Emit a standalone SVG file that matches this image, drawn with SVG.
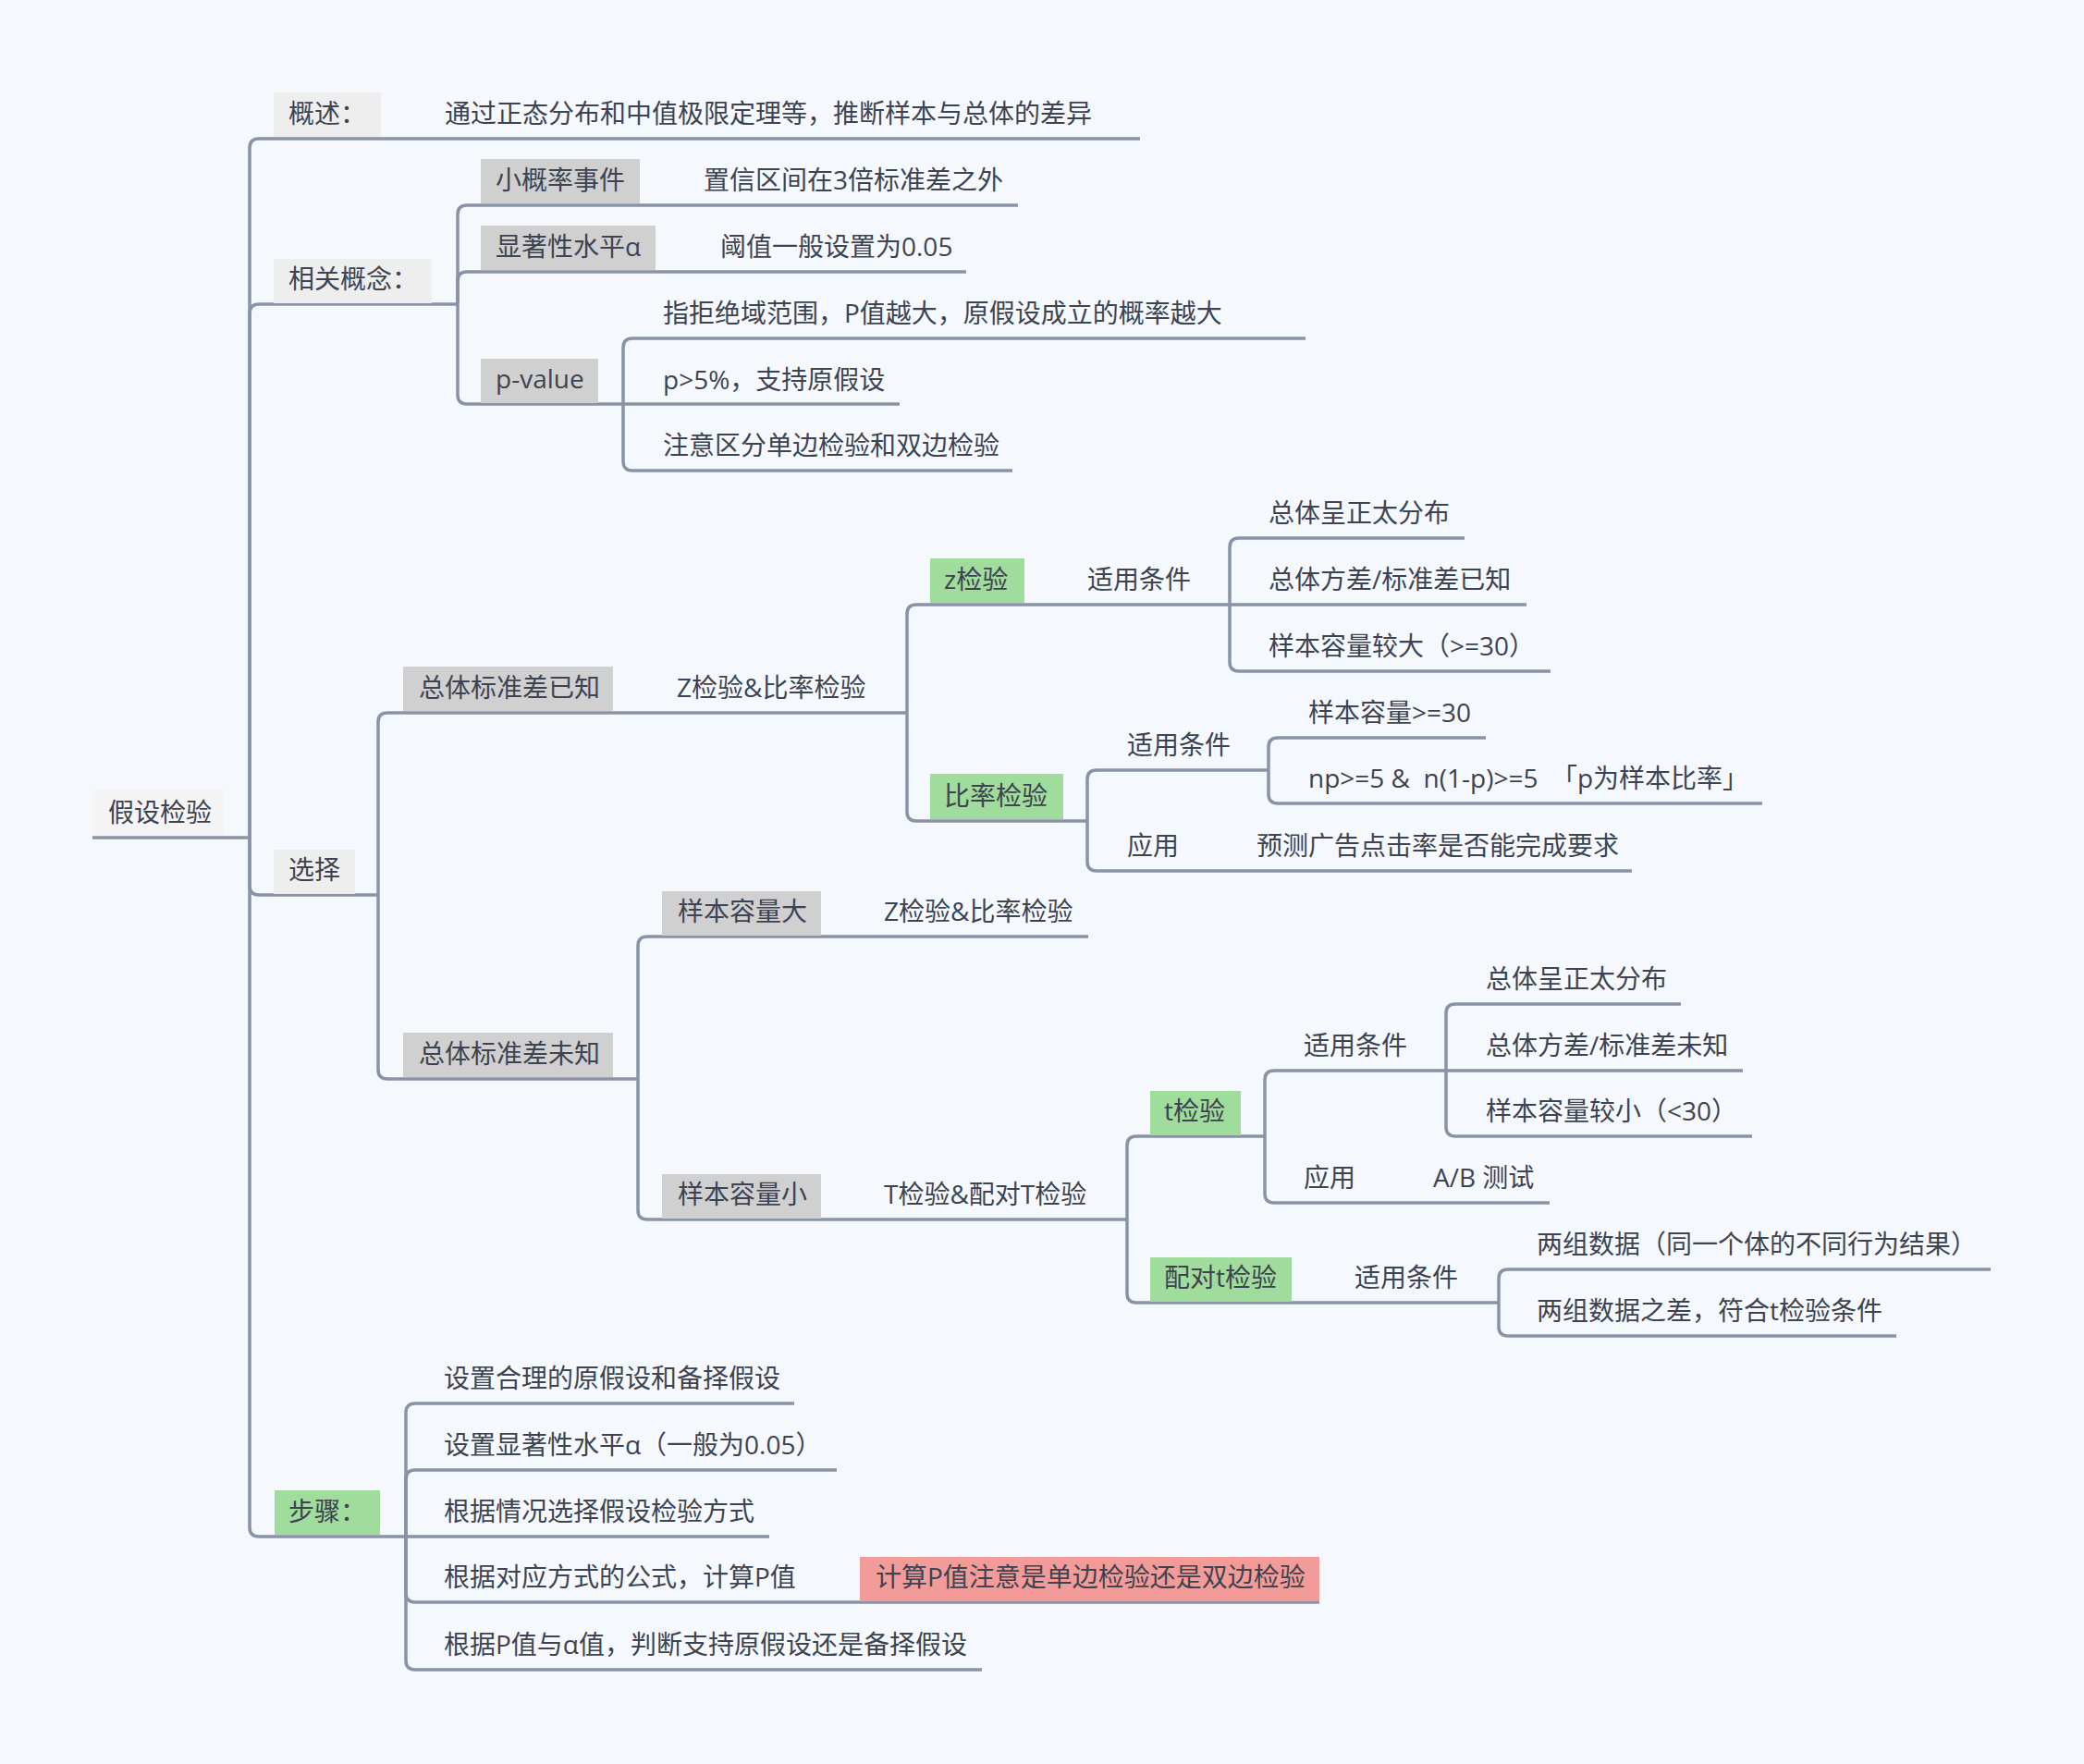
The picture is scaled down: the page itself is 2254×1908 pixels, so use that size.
<svg xmlns="http://www.w3.org/2000/svg" width="2254" height="1908" viewBox="0 0 2254 1908">
<style>
.t{font-family:"Open Sans","Noto Sans CJK SC","Noto Sans",sans-serif;font-size:28px;fill:#3D4350}
.c{fill:none;stroke:#8A93A5;stroke-width:3.5;stroke-linecap:butt}
.root{fill:#F4F4F4}
.b1{fill:#EEEEEE}
.b2{fill:#D0D0D0}
.g{fill:#A0DC9C}
.r{fill:#F29B98}
</style>
<rect width="2254" height="1908" fill="#F5F9FE"/>
<g id="connectors">
<path class="c" d="M100,906 H270"/>
<path class="c" d="M270,906 V160 Q270,150 280,150 H1233"/>
<path class="c" d="M270,906 V339 Q270,329 280,329 H495"/>
<path class="c" d="M270,906 V958 Q270,968 280,968 H409"/>
<path class="c" d="M270,906 V1652 Q270,1662 280,1662 H439"/>
<path class="c" d="M495,329 V232 Q495,222 505,222 H1101"/>
<path class="c" d="M495,329 V304 Q495,294 505,294 H1045"/>
<path class="c" d="M495,329 V427 Q495,437 505,437 H674"/>
<path class="c" d="M674,437 V376 Q674,366 684,366 H1412"/>
<path class="c" d="M674,437 H973"/>
<path class="c" d="M674,437 V499 Q674,509 684,509 H1095"/>
<path class="c" d="M409,968 V781 Q409,771 419,771 H981"/>
<path class="c" d="M409,968 V1157 Q409,1167 419,1167 H690"/>
<path class="c" d="M981,771 V664 Q981,654 991,654 H1330"/>
<path class="c" d="M981,771 V878 Q981,888 991,888 H1176"/>
<path class="c" d="M1330,654 V592 Q1330,582 1340,582 H1584"/>
<path class="c" d="M1330,654 H1651"/>
<path class="c" d="M1330,654 V716 Q1330,726 1340,726 H1677"/>
<path class="c" d="M1176,888 V843 Q1176,833 1186,833 H1372"/>
<path class="c" d="M1176,888 V932 Q1176,942 1186,942 H1765"/>
<path class="c" d="M1372,833 V808 Q1372,798 1382,798 H1607"/>
<path class="c" d="M1372,833 V859 Q1372,869 1382,869 H1906"/>
<path class="c" d="M690,1167 V1023 Q690,1013 700,1013 H1177"/>
<path class="c" d="M690,1167 V1309 Q690,1319 700,1319 H1219"/>
<path class="c" d="M1219,1319 V1239 Q1219,1229 1229,1229 H1368"/>
<path class="c" d="M1219,1319 V1399 Q1219,1409 1229,1409 H1621"/>
<path class="c" d="M1368,1229 V1168 Q1368,1158 1378,1158 H1564"/>
<path class="c" d="M1368,1229 V1291 Q1368,1301 1378,1301 H1676"/>
<path class="c" d="M1564,1158 V1096 Q1564,1086 1574,1086 H1818"/>
<path class="c" d="M1564,1158 H1885"/>
<path class="c" d="M1564,1158 V1219 Q1564,1229 1574,1229 H1895"/>
<path class="c" d="M1621,1409 V1383 Q1621,1373 1631,1373 H2153"/>
<path class="c" d="M1621,1409 V1435 Q1621,1445 1631,1445 H2051"/>
<path class="c" d="M439,1662 V1528 Q439,1518 449,1518 H859"/>
<path class="c" d="M439,1662 V1600 Q439,1590 449,1590 H905"/>
<path class="c" d="M439,1662 H832"/>
<path class="c" d="M439,1662 V1723 Q439,1733 449,1733 H1427"/>
<path class="c" d="M439,1662 V1796 Q439,1806 449,1806 H1062"/>
</g>
<g id="root"><rect class="root" x="100" y="854" width="143" height="50"/><text class="t" x="117" y="889">假设检验</text></g>
<g id="n-gaishu"><rect class="b1" x="296" y="100" width="116" height="48"/><text class="t" x="312" y="133">概述：</text></g>
<g id="n-gaishu-1"><text class="t" x="481" y="133">通过正态分布和中值极限定理等，推断样本与总体的差异</text></g>
<g id="n-xiangguan"><rect class="b1" x="296" y="280" width="171" height="48"/><text class="t" x="312" y="312">相关概念：</text></g>
<g id="n-xiaogailv"><rect class="b2" x="520" y="172" width="172" height="48"/><text class="t" x="536" y="205">小概率事件</text></g>
<g id="n-xiaogailv-1"><text class="t" x="761" y="205">置信区间在3倍标准差之外</text></g>
<g id="n-xianzhu"><rect class="b2" x="520" y="244" width="189" height="48"/><text class="t" x="536" y="277">显著性水平α</text></g>
<g id="n-xianzhu-1"><text class="t" x="779" y="277">阈值一般设置为0.05</text></g>
<g id="n-pvalue"><rect class="b2" x="520" y="388" width="127" height="48"/><text class="t" x="536" y="420">p-value</text></g>
<g id="n-pvalue-1"><text class="t" x="717" y="349">指拒绝域范围，P值越大，原假设成立的概率越大</text></g>
<g id="n-pvalue-2"><text class="t" x="717" y="421">p&gt;5%，支持原假设</text></g>
<g id="n-pvalue-3"><text class="t" x="717" y="492">注意区分单边检验和双边检验</text></g>
<g id="n-xuanze"><rect class="b1" x="296" y="919" width="88" height="48"/><text class="t" x="312" y="951">选择</text></g>
<g id="n-yizhi"><rect class="b2" x="436" y="721" width="227" height="48"/><text class="t" x="453" y="754">总体标准差已知</text></g>
<g id="n-yizhi-1"><text class="t" x="732" y="754">Z检验&amp;比率检验</text></g>
<g id="n-zjianyan"><rect class="g" x="1006" y="604" width="102" height="48"/><text class="t" x="1021" y="637">z检验</text></g>
<g id="n-z-tiaojian"><text class="t" x="1176" y="637">适用条件</text></g>
<g id="n-z-t1"><text class="t" x="1372" y="565">总体呈正太分布</text></g>
<g id="n-z-t2"><text class="t" x="1372" y="637">总体方差/标准差已知</text></g>
<g id="n-z-t3"><text class="t" x="1372" y="709">样本容量较大（&gt;=30）</text></g>
<g id="n-bilv"><rect class="g" x="1006" y="837" width="144" height="49"/><text class="t" x="1021" y="871">比率检验</text></g>
<g id="n-bilv-tiaojian"><text class="t" x="1219" y="816">适用条件</text></g>
<g id="n-bilv-t1"><text class="t" x="1415" y="781">样本容量&gt;=30</text></g>
<g id="n-bilv-t2"><text class="t" x="1415" y="852" xml:space="preserve">np&gt;=5 &amp;  n(1-p)&gt;=5  「p为样本比率」</text></g>
<g id="n-bilv-yingyong"><text class="t" x="1219" y="925">应用</text></g>
<g id="n-bilv-yingyong-1"><text class="t" x="1359" y="925">预测广告点击率是否能完成要求</text></g>
<g id="n-weizhi"><rect class="b2" x="436" y="1117" width="227" height="48"/><text class="t" x="453" y="1150">总体标准差未知</text></g>
<g id="n-da"><rect class="b2" x="716" y="964" width="172" height="48"/><text class="t" x="733" y="996">样本容量大</text></g>
<g id="n-da-1"><text class="t" x="956" y="996">Z检验&amp;比率检验</text></g>
<g id="n-xiao"><rect class="b2" x="716" y="1270" width="172" height="48"/><text class="t" x="733" y="1302">样本容量小</text></g>
<g id="n-xiao-1"><text class="t" x="956" y="1302">T检验&amp;配对T检验</text></g>
<g id="n-tjianyan"><rect class="g" x="1244" y="1180" width="98" height="48"/><text class="t" x="1259" y="1212">t检验</text></g>
<g id="n-t-tiaojian"><text class="t" x="1410" y="1141">适用条件</text></g>
<g id="n-t-t1"><text class="t" x="1607" y="1069">总体呈正太分布</text></g>
<g id="n-t-t2"><text class="t" x="1607" y="1141">总体方差/标准差未知</text></g>
<g id="n-t-t3"><text class="t" x="1607" y="1212">样本容量较小（&lt;30）</text></g>
<g id="n-t-yingyong"><text class="t" x="1410" y="1284">应用</text></g>
<g id="n-t-yingyong-1"><text class="t" x="1550" y="1284">A/B 测试</text></g>
<g id="n-peidui"><rect class="g" x="1244" y="1360" width="153" height="48"/><text class="t" x="1259" y="1392">配对t检验</text></g>
<g id="n-peidui-tiaojian"><text class="t" x="1465" y="1392">适用条件</text></g>
<g id="n-peidui-t1"><text class="t" x="1662" y="1356">两组数据（同一个体的不同行为结果）</text></g>
<g id="n-peidui-t2"><text class="t" x="1662" y="1428">两组数据之差，符合t检验条件</text></g>
<g id="n-buzhou"><rect class="g" x="297" y="1612" width="114" height="48"/><text class="t" x="312" y="1645">步骤：</text></g>
<g id="n-bz1"><text class="t" x="480" y="1501">设置合理的原假设和备择假设</text></g>
<g id="n-bz2"><text class="t" x="480" y="1573">设置显著性水平α（一般为0.05）</text></g>
<g id="n-bz3"><text class="t" x="480" y="1645">根据情况选择假设检验方式</text></g>
<g id="n-bz4"><text class="t" x="480" y="1716">根据对应方式的公式，计算P值</text></g>
<g id="n-bz4-1"><rect class="r" x="930" y="1684" width="497" height="48"/><text class="t" x="947" y="1716">计算P值注意是单边检验还是双边检验</text></g>
<g id="n-bz5"><text class="t" x="480" y="1789">根据P值与α值，判断支持原假设还是备择假设</text></g>
</svg>
